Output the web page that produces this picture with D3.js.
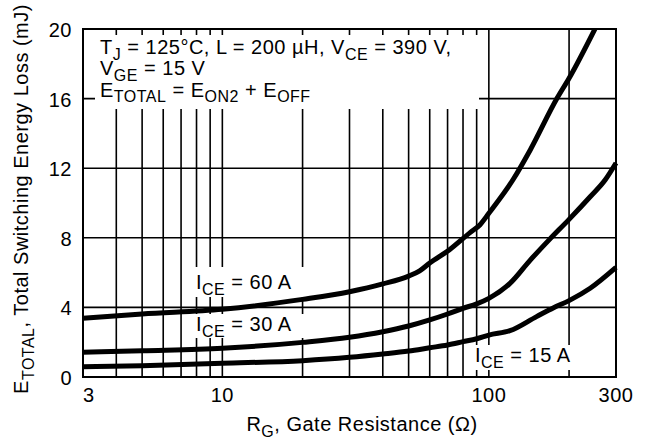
<!DOCTYPE html>
<html>
<head>
<meta charset="utf-8">
<script src="https://cdn.jsdelivr.net/npm/d3@7"></script>
<style>
  body { margin: 0; background: #fff; }
  svg text { font-family: "Liberation Sans", Arial, Helvetica, sans-serif; fill: #000; letter-spacing: 0.5px; }
</style>
</head>
<body>
<div id="chart"></div>
<script>
// values
const rg60 = [3, 5, 10, 20, 30, 40, 50, 55, 60, 71, 85, 92.5, 100, 123, 143, 180, 200, 250];
const e60 = [3.37, 3.62, 3.89, 4.46, 4.9, 5.35, 5.8, 6.1, 6.55, 7.3, 8.3, 8.74, 9.41, 11.32, 13.05, 16.0, 17.17, 20.0];

const rg30 = [3, 5, 10, 20, 30, 40, 50, 60, 70, 80, 90, 100, 120, 143, 169, 200, 240, 273, 300];
const e30 = [1.42, 1.51, 1.65, 1.99, 2.28, 2.6, 2.93, 3.28, 3.62, 3.95, 4.2, 4.52, 5.38, 6.72, 7.91, 9.06, 10.36, 11.32, 12.3];

const rg15 = [3, 5, 10, 20, 30, 40, 50, 60, 70, 80, 90, 100, 120, 151, 175, 200, 240, 300];
const e15 = [0.59, 0.65, 0.79, 0.94, 1.13, 1.32, 1.49, 1.68, 1.84, 2.03, 2.2, 2.41, 2.66, 3.47, 3.98, 4.39, 5.1, 6.3];

const xTicks = [3, 10, 100, 300];
const yTicks = [0, 4, 8, 12, 16, 20];
const xGrid = [4, 5, 6, 7, 8, 9, 10, 20, 30, 40, 50, 60, 70, 80, 90, 100, 200];
const yGrid = [4, 8, 12, 16];

const notes = [
  "T_{J} = 125°C, L = 200 µH, V_{CE} = 390 V,",
  "V_{GE} = 15 V",
  "E_{TOTAL} = E_{ON2} + E_{OFF}"
];

let width = 646, height = 440;
let margin = {top: 29, right: 30, bottom: 63, left: 83};
let fs = 20, subFs = 16;

let svg = d3.select('#chart').append('svg')
    .attr('width', width)
    .attr('height', height);

let x = d3.scaleLog().domain([3, 300]).range([margin.left, width - margin.right]);
let y = d3.scaleLinear().domain([0, 20]).range([height - margin.bottom, margin.top]);

// write "A_{sub} b" strings as text with subscript tspans
function richText(sel, str) {
  let parts = str.split(/(_\{[^}]*\})/).filter(s => s.length);
  parts.forEach(p => {
    if (p.startsWith('_{')) {
      sel.append('tspan').attr('dy', 5.5).attr('font-size', subFs).text(p.slice(2, -1));
      sel.append('tspan').attr('dy', -5.5).text('\u200b');
    } else {
      sel.append('tspan').text(p);
    }
  });
  return sel;
}

// grid
let grid = svg.append('g').attr('stroke', '#000').attr('stroke-width', 1.6);
grid.selectAll('.vg').data(xGrid).enter().append('line')
    .attr('x1', d => x(d)).attr('x2', d => x(d))
    .attr('y1', y(0)).attr('y2', y(20));
grid.selectAll('.hg').data(yGrid).enter().append('line')
    .attr('x1', x(3)).attr('x2', x(300))
    .attr('y1', d => y(d)).attr('y2', d => y(d));

// white boxes behind the annotations (they cut the grid)
let boxes = [
  {x: 95, y: 35, w: 384, h: 74},
  {x: 190, y: 267, w: 115, h: 30},
  {x: 190, y: 314, w: 115, h: 24},
  {x: 471, y: 345, w: 106, h: 25}
];
svg.append('g').selectAll('rect').data(boxes).enter().append('rect')
    .attr('x', d => d.x).attr('y', d => d.y)
    .attr('width', d => d.w).attr('height', d => d.h)
    .attr('fill', '#fff');

// curves
let line = d3.line()
    .x(d => x(d[0]))
    .y(d => y(d[1]))
    .curve(d3.curveMonotoneX);

let series = [
  d3.zip(rg60, e60),
  d3.zip(rg30, e30),
  d3.zip(rg15, e15)
];
svg.append('g').selectAll('path').data(series).enter().append('path')
    .attr('d', line)
    .attr('fill', 'none')
    .attr('stroke', '#000')
    .attr('stroke-width', 5)
    .attr('stroke-linejoin', 'round');

// frame
svg.append('rect')
    .attr('x', x(3)).attr('y', y(20))
    .attr('width', x(300) - x(3)).attr('height', y(0) - y(20))
    .attr('fill', 'none').attr('stroke', '#000').attr('stroke-width', 2);

// tick labels
svg.append('g').selectAll('text').data(yTicks).enter().append('text')
    .attr('x', margin.left - 11)
    .attr('y', d => y(d))
    .attr('dy', '0.4em')
    .attr('text-anchor', 'end')
    .attr('font-size', fs)
    .text(d => d);

svg.append('g').selectAll('text').data(xTicks).enter().append('text')
    .attr('x', d => x(d))
    .attr('y', 402)
    .attr('text-anchor', (d, i) => i === 0 ? 'start' : 'middle')
    .attr('font-size', fs)
    .text(d => d);

// annotations
let noteG = svg.append('g').attr('font-size', fs);
notes.forEach((n, i) => {
  richText(noteG.append('text').attr('x', 100).attr('y', 54 + i * 21.3), n);
});

richText(svg.append('text').attr('x', 196).attr('y', 289).attr('font-size', fs), 'I_{CE} = 60 A');
richText(svg.append('text').attr('x', 196).attr('y', 331).attr('font-size', fs), 'I_{CE} = 30 A');
richText(svg.append('text').attr('x', 475).attr('y', 362).attr('font-size', fs), 'I_{CE} = 15 A');

// axis titles
richText(svg.append('text')
    .attr('x', 362).attr('y', 431)
    .attr('text-anchor', 'middle')
    .attr('font-size', fs), 'R_{G}, Gate Resistance (Ω)');

richText(svg.append('text')
    .attr('transform', 'translate(28,199) rotate(-90)')
    .attr('text-anchor', 'middle')
    .attr('font-size', fs), 'E_{TOTAL}, Total Switching Energy Loss (mJ)');
</script>
</body>
</html>
